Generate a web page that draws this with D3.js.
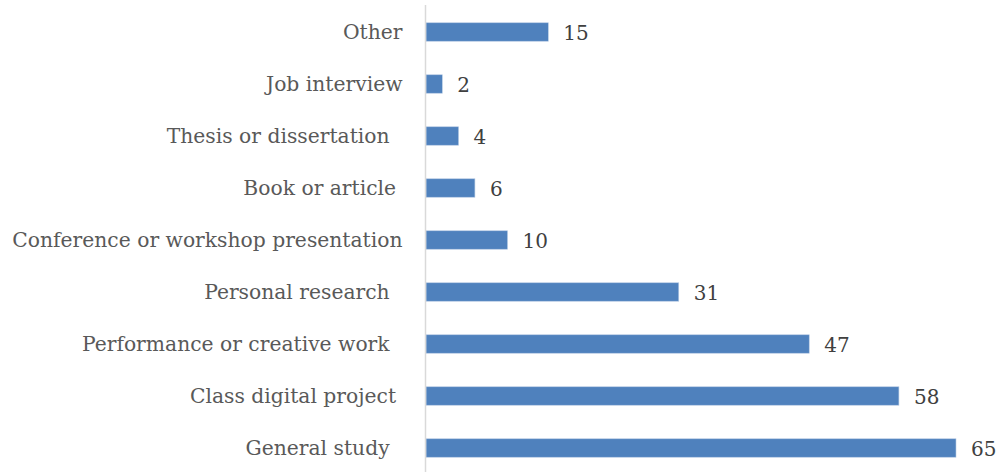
<!DOCTYPE html>
<html>
<head>
<meta charset="utf-8">
<script src="https://cdn.jsdelivr.net/npm/d3@7/dist/d3.min.js"></script>
<style>
  html, body { margin: 0; padding: 0; background: #fff; }
  svg { display: block; }
  text { white-space: pre; }
</style>
</head>
<body>
<svg id="chart" width="999" height="472"></svg>
<script>
// Purposes, listed top to bottom
const categories = [
  "Other",
  "Job interview",
  "Thesis or dissertation  ",
  "Book or article ",
  "Conference or workshop presentation",
  "Personal research  ",
  "Performance or creative work  ",
  "Class digital project ",
  "General study  "
];
const counts = [15, 2, 4, 6, 10, 31, 47, 58, 65];

const svg = d3.select("#chart");
const x0 = 426;
const fontFamily = "'DejaVu Serif', serif";

const x = d3.scaleLinear().domain([0, 65]).range([x0, x0 + 530]);
const y = d3.scaleBand()
  .domain(categories)
  .range([6, 474])
  .paddingInner(0.645)
  .paddingOuter(0.3225);

// Bars
svg.append("g").selectAll("rect")
  .data(categories)
  .join("rect")
  .attr("x", x(0))
  .attr("y", (d) => y(d))
  .attr("width", (d, i) => x(counts[i]) - x(0))
  .attr("height", y.bandwidth())
  .attr("fill", "#4f81bd")
  .attr("stroke", "#b9cde5")
  .attr("stroke-width", 0.6);

// Category axis
const yAxis = d3.axisLeft(y).tickSize(0).tickPadding(23);
const axisG = svg.append("g")
  .attr("transform", `translate(${x0 - 0.5},0)`)
  .call(yAxis);
axisG.select(".domain")
  .attr("d", "M0,5V472")
  .attr("stroke", "#d9d9d9")
  .attr("stroke-width", 1.5);
axisG.selectAll(".tick text")
  .attr("fill", "#595959")
  .style("font-family", fontFamily)
  .style("font-size", "20.3px")
  .attr("dy", "0.35em");

// Value labels
svg.append("g").selectAll("text")
  .data(categories)
  .join("text")
  .attr("x", (d, i) => x(counts[i]) + 15)
  .attr("y", (d) => y(d) + y.bandwidth() / 2)
  .attr("dy", "0.38em")
  .attr("fill", "#404040")
  .style("font-family", fontFamily)
  .style("font-size", "20px")
  .text((d, i) => counts[i]);
</script>
</body>
</html>
